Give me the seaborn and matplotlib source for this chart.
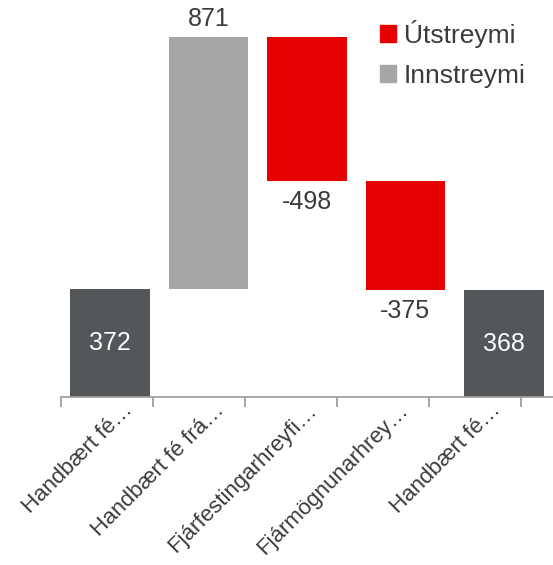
import matplotlib
matplotlib.use("Agg")
import matplotlib.pyplot as plt
import seaborn as sns
import numpy as np
from matplotlib.patches import Patch

sns.set_theme(style="white")
plt.rcParams["font.family"] = ["Liberation Sans", "DejaVu Sans"]

# gögn úr fossariti (waterfall)
categories = ["Handbært fé…", "Handbært fé frá…", "Fjárfestingarhreyfi…",
              "Fjármögnunarhrey…", "Handbært fé…"]
values = [372, 871, -498, -375, 368]
kinds = ["total", "in", "out", "out", "total"]

colors = {"total": "#54575a", "in": "#a6a6a6", "out": "#e60000"}
text_col = "#3b3b3b"

# reikna neðri brún hverrar súlu
bottoms = []
running = 0
for v, k in zip(values, kinds):
    if k == "total":
        bottoms.append(0)
        running = v
    elif v >= 0:
        bottoms.append(running)
        running += v
    else:
        running += v
        bottoms.append(running)
heights = [abs(v) for v in values]

fig = plt.figure(figsize=(5.53, 5.65), dpi=100)
ax = fig.add_axes([0.1103, 0.2973, 0.8897, 0.7027])

x = np.arange(len(values))
ax.bar(x, heights, bottom=bottoms, width=0.81,
       color=[colors[k] for k in kinds], linewidth=0)

# gildismerki
for xi, v, b, h, k in zip(x, values, bottoms, heights, kinds):
    if k == "total":
        ax.text(xi, b + h / 2, f"{v}", ha="center", va="center",
                color="white", fontsize=18)
    elif v >= 0:
        ax.text(xi, b + h + 22, f"{v}", ha="center", va="bottom",
                color=text_col, fontsize=18)
    else:
        ax.text(xi, b - 30, f"{v}", ha="center", va="top",
                color=text_col, fontsize=18)

ax.set_xlim(-0.5, 4.5)
ax.set_ylim(0, 1371)
ax.set_yticks([])

# ás og merki á mörkum flokka
sns.despine(ax=ax, left=True, top=True, right=True)
ax.spines["bottom"].set_color("#a0a0a0")
ax.spines["bottom"].set_linewidth(1.3)
ax.set_xticks(-0.5 + 0.935 * np.arange(6), minor=True)
ax.tick_params(axis="x", which="minor", bottom=True, length=7,
               width=1.3, color="#a0a0a0")
ax.set_xticks(0.27 + 0.935 * x)
ax.set_xticklabels(categories, rotation=45, ha="right",
                   fontsize=16, color=text_col)
ax.tick_params(axis="x", which="major", length=0, pad=2)

handles = [Patch(color=colors["out"], label="Útstreymi"),
           Patch(color=colors["in"], label="Innstreymi")]
leg = ax.legend(handles=handles, loc="upper left", frameon=False,
                bbox_to_anchor=(0.6, 1.01), fontsize=19,
                handlelength=0.6, handleheight=0.6, handletextpad=0.3,
                labelspacing=0.6)
for t in leg.get_texts():
    t.set_color(text_col)

fig.savefig("out.png", dpi=100)
